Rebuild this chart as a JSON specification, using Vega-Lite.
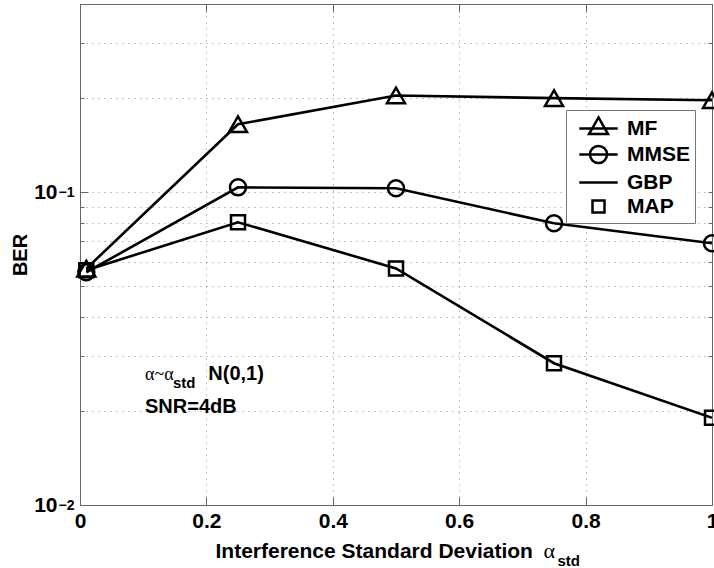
{
  "$schema": "https://vega.github.io/schema/vega-lite/v6.json",
  "width": 632,
  "height": 501,
  "autosize": {"type": "none"},
  "padding": {"left": 80, "top": 4, "right": 2, "bottom": 63},
  "background": "white",
  "config": {
    "view": {"stroke": null},
    "font": "Liberation Sans",
    "axis": {"labelColor": "black", "titleColor": "black", "domainColor": "#666", "tickColor": "#666", "gridColor": "#888", "gridDash": [1, 5], "gridWidth": 1}
  },
  "datasets": {
    "ber": [
      {"series": "MF", "x": 0.01, "y": 0.057},
      {"series": "MF", "x": 0.25, "y": 0.165},
      {"series": "MF", "x": 0.5, "y": 0.204},
      {"series": "MF", "x": 0.75, "y": 0.2},
      {"series": "MF", "x": 1.0, "y": 0.197},
      {"series": "MMSE", "x": 0.01, "y": 0.0555},
      {"series": "MMSE", "x": 0.25, "y": 0.1037},
      {"series": "MMSE", "x": 0.5, "y": 0.103},
      {"series": "MMSE", "x": 0.75, "y": 0.0796},
      {"series": "MMSE", "x": 1.0, "y": 0.0687},
      {"series": "GBP", "x": 0.01, "y": 0.0563},
      {"series": "GBP", "x": 0.25, "y": 0.0802},
      {"series": "GBP", "x": 0.5, "y": 0.0571},
      {"series": "GBP", "x": 0.75, "y": 0.0284},
      {"series": "GBP", "x": 1.0, "y": 0.019},
      {"series": "MAP", "x": 0.01, "y": 0.0563},
      {"series": "MAP", "x": 0.25, "y": 0.0802},
      {"series": "MAP", "x": 0.5, "y": 0.0571},
      {"series": "MAP", "x": 0.75, "y": 0.0284},
      {"series": "MAP", "x": 1.0, "y": 0.019}
    ],
    "notes": [
      {"kind": "serif", "x": 0.1028, "y": 0.02508, "label": "α~α"},
      {"kind": "sub", "x": 0.147, "y": 0.02366, "label": "std"},
      {"kind": "main", "x": 0.203, "y": 0.02508, "label": "N(0,1)"},
      {"kind": "main", "x": 0.1028, "y": 0.01968, "label": "SNR=4dB"}
    ]
  },
  "resolve": {"axis": {"x": "independent", "y": "independent"}},
  "layer": [
    {
      "data": {"name": "ber"},
      "transform": [{"filter": "datum.series !== 'MAP'"}],
      "mark": {"type": "line", "color": "black", "strokeWidth": 2.6, "clip": true},
      "encoding": {
        "x": {"field": "x", "type": "quantitative",
          "scale": {"domain": [0, 1], "nice": false, "zero": false},
          "axis": {"orient": "bottom", "values": [0, 0.2, 0.4, 0.6, 0.8, 1], "format": "~g", "grid": true, "tickSize": -8,
            "labelFont": "Liberation Sans", "labelFontWeight": "bold", "labelFontSize": 21, "labelPadding": 13, "labelFlush": false,
            "title": "Interference Standard Deviation", "titleFont": "Liberation Sans", "titleFontWeight": "bold", "titleFontSize": 21,
            "titleAlign": "left", "titleAnchor": "start", "titleBaseline": "alphabetic", "titleX": 135, "titleY": 52}},
        "y": {"field": "y", "type": "quantitative",
          "scale": {"type": "log", "domain": [0.01, 0.4], "nice": false},
          "axis": {"orient": "left", "values": [0.01, 0.02, 0.03, 0.04, 0.05, 0.06, 0.07, 0.08, 0.09, 0.1, 0.2, 0.3, 0.4],
            "grid": true, "tickSize": -4,
            "labelExpr": "(datum.value > 0.0099 && datum.value < 0.0101) || (datum.value > 0.099 && datum.value < 0.101) ? '10' : ''",
            "labelFont": "Liberation Sans", "labelFontWeight": "bold", "labelFontSize": 21, "labelPadding": 27, "labelBaseline": "middle",
            "title": "BER", "titleFont": "Liberation Sans", "titleFontWeight": "bold", "titleFontSize": 20, "titlePadding": 3}},
        "detail": {"field": "series"}
      }
    },
    {
      "data": {"name": "ber"},
      "transform": [{"filter": "datum.series === 'MF'"}],
      "mark": {"type": "point", "shape": "triangle-up", "filled": false, "color": "black", "strokeWidth": 2.5, "size": 324, "opacity": 1},
      "encoding": {
        "x": {"field": "x", "type": "quantitative",
          "axis": {"orient": "bottom", "labels": false, "ticks": false, "domain": false, "grid": false,
            "title": "α", "titleFont": "Liberation Serif", "titleFontWeight": "normal", "titleFontSize": 22,
            "titleAlign": "left", "titleAnchor": "start", "titleBaseline": "alphabetic", "titleX": 463, "titleY": 52}},
        "y": {"field": "y", "type": "quantitative",
          "axis": {"orient": "left", "values": [0.01, 0.1], "grid": false, "domain": false, "tickSize": -8,
            "labelExpr": "datum.value < 0.05 ? '−2' : '−1'",
            "labelFont": "Liberation Sans", "labelFontWeight": "bold", "labelFontSize": 14, "labelPadding": 14, "labelDy": -8, "labelBaseline": "middle",
            "title": null}}
      }
    },
    {
      "data": {"name": "ber"},
      "transform": [{"filter": "datum.series === 'MMSE'"}],
      "mark": {"type": "point", "shape": "circle", "filled": false, "color": "black", "strokeWidth": 2.5, "size": 256, "opacity": 1},
      "encoding": {
        "x": {"field": "x", "type": "quantitative",
          "axis": {"orient": "top", "values": [0, 0.2, 0.4, 0.6, 0.8, 1], "labels": false, "grid": false, "tickSize": -8, "title": null}},
        "y": {"field": "y", "type": "quantitative",
          "axis": {"orient": "right", "values": [0.01, 0.02, 0.03, 0.04, 0.05, 0.06, 0.07, 0.08, 0.09, 0.1, 0.2, 0.3, 0.4],
            "labels": false, "grid": false, "tickSize": -4, "title": null}}
      }
    },
    {
      "data": {"name": "ber"},
      "transform": [{"filter": "datum.series === 'MAP'"}],
      "mark": {"type": "point", "shape": "square", "filled": false, "color": "black", "strokeWidth": 2.5, "size": 196, "opacity": 1},
      "encoding": {
        "x": {"field": "x", "type": "quantitative",
          "axis": {"orient": "bottom", "labels": false, "ticks": false, "domain": false, "grid": false,
            "title": "std", "titleFont": "Liberation Sans", "titleFontWeight": "bold", "titleFontSize": 15,
            "titleAlign": "left", "titleAnchor": "start", "titleBaseline": "alphabetic", "titleX": 477, "titleY": 60}},
        "y": {"field": "y", "type": "quantitative", "axis": null}
      }
    },
    {
      "data": {"name": "ber"},
      "mark": {"type": "point", "filled": false, "color": "black", "strokeWidth": 2.5, "opacity": 0},
      "encoding": {
        "x": {"field": "x", "type": "quantitative", "axis": null},
        "y": {"field": "y", "type": "quantitative", "axis": null},
        "shape": {"field": "series", "type": "nominal",
          "scale": {"domain": ["MF", "MMSE", "GBP", "MAP"],
            "range": [
              "M-1.6,0H1.6M0,-0.92L0.79,0.46H-0.79Z",
              "M-1.6,0H1.6M0.71,0A0.71,0.71,0,1,1,-0.71,0A0.71,0.71,0,1,1,0.71,0Z",
              "M-1.6,0H1.6",
              "M-0.5,-0.5H0.5V0.5H-0.5Z"]},
          "legend": {"orient": "none", "legendX": 486, "legendY": 106, "title": null,
            "fillColor": "white", "strokeColor": "#777", "padding": 5,
            "symbolSize": 576, "symbolOffset": 14, "symbolStrokeWidth": 2.5, "symbolStrokeColor": "black",
            "symbolFillColor": "transparent", "symbolOpacity": 1,
            "labelFont": "Liberation Sans", "labelFontWeight": "bold", "labelFontSize": 21, "labelColor": "black",
            "labelOffset": 15, "rowPadding": 0}}
      }
    },
    {
      "data": {"name": "notes"},
      "transform": [{"filter": "datum.kind === 'serif'"}],
      "mark": {"type": "text", "font": "Liberation Serif", "fontSize": 18, "align": "left", "baseline": "alphabetic", "color": "black"},
      "encoding": {
        "x": {"field": "x", "type": "quantitative", "axis": null},
        "y": {"field": "y", "type": "quantitative", "axis": null},
        "text": {"field": "label"}
      }
    },
    {
      "data": {"name": "notes"},
      "transform": [{"filter": "datum.kind === 'main'"}],
      "mark": {"type": "text", "font": "Liberation Sans", "fontWeight": "bold", "fontSize": 20, "align": "left", "baseline": "alphabetic", "color": "black"},
      "encoding": {
        "x": {"field": "x", "type": "quantitative", "axis": null},
        "y": {"field": "y", "type": "quantitative", "axis": null},
        "text": {"field": "label"}
      }
    },
    {
      "data": {"name": "notes"},
      "transform": [{"filter": "datum.kind === 'sub'"}],
      "mark": {"type": "text", "font": "Liberation Sans", "fontWeight": "bold", "fontSize": 15, "align": "left", "baseline": "alphabetic", "color": "black"},
      "encoding": {
        "x": {"field": "x", "type": "quantitative", "axis": null},
        "y": {"field": "y", "type": "quantitative", "axis": null},
        "text": {"field": "label"}
      }
    }
  ]
}
